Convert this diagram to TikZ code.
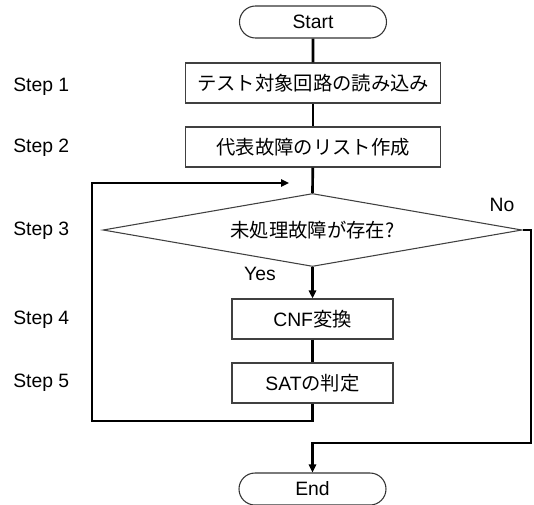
\documentclass[tikz,border=0pt]{standalone}
\usepackage{fontspec}
\setmainfont{Liberation Sans}
\newfontfamily\cjk{Noto Sans CJK JP}
\usetikzlibrary{shapes.geometric,shapes.misc,arrows.meta}
\begin{document}
\begin{tikzpicture}[x=0.75pt,y=-0.75pt,
  every node/.style={font=\fontsize{14.5pt}{16pt}\selectfont},
  box/.style={draw=black!75,line width=0.9pt,rectangle,inner sep=0pt,minimum height=30pt},
  wide/.style={box,minimum width=191.25pt},
  narrow/.style={box,minimum width=120.75pt},
  term/.style={draw=black!80,line width=0.8pt,rounded rectangle,inner sep=0pt,minimum width=110.25pt,minimum height=24pt},
  decision/.style={draw=black!75,line width=0.8pt,diamond,shape aspect=5.7,inner sep=0pt,minimum width=314.25pt,minimum height=54.75pt},
  conn/.style={line width=2pt,black},
  arr/.style={conn,-{Triangle[length=6pt,width=5.5pt]}},
  steplabel/.style={anchor=west,inner sep=0pt}]
\useasboundingbox (0,0) rectangle (534,504);
\node[term] (start) at (313,22) {Start};
\node[wide] (b1) at (313,83) {\cjk テスト対象回路の読み込み};
\node[wide] (b2) at (313,147) {\cjk 代表故障のリスト作成};
\node[decision] (dec) at (312.5,230) {\cjk 未処理故障が存在?};
\node[narrow] (cnf) at (312.5,319) {CNF{\cjk 変換}};
\node[narrow] (sat) at (312.5,383) {SAT{\cjk の判定}};
\node[term] (end) at (312.5,489) {End};

\node[steplabel] (s1) at (13,87) {Step 1};
\node[steplabel] (s2) at (13,148) {Step 2};
\node[steplabel] (s3) at (13,231) {Step 3};
\node[steplabel] (s4) at (13,320) {Step 4};
\node[steplabel] (s5) at (13,383) {Step 5};
\node (yes) at (260,274) {Yes};
\node (no) at (502,205) {No};

\coordinate (lb) at (92,421);
\coordinate (lt) at (92,183);
\coordinate (la) at (289,183);
\coordinate (r1) at (531,230);
\coordinate (r2) at (531,443);

\draw[conn] (start) -- (b1);
\draw[conn] (b1) -- (b2);
\draw[conn] (b2) -- (dec.north);
\draw[arr] (dec.south) -- (cnf.north);
\draw[conn] (cnf) -- (sat);
\draw[arr] (sat.south) |- (lb) -- (lt) -- (la);
\draw[arr] (dec.east) -- (r1) -- (r2) -| (end.north);
\end{tikzpicture}
\end{document}
